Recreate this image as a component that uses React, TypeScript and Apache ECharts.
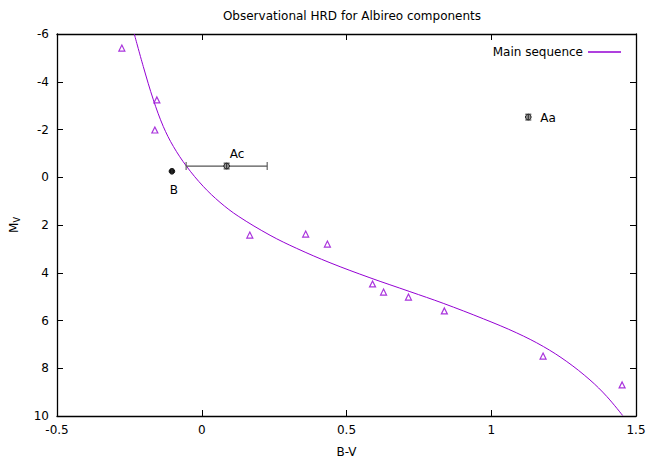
import React, { useEffect, useRef } from "react";
import * as echarts from "echarts";

const mainSequenceCurve: number[][] = [
  [-0.233, -6.0],
  [-0.202, -4.64],
  [-0.167, -3.24],
  [-0.133, -2.13],
  [-0.098, -1.29],
  [-0.052, -0.45],
  [0.005, 0.38],
  [0.063, 1.05],
  [0.126, 1.63],
  [0.236, 2.43],
  [0.328, 2.98],
  [0.443, 3.58],
  [0.581, 4.21],
  [0.719, 4.79],
  [0.834, 5.28],
  [0.973, 5.93],
  [1.088, 6.52],
  [1.18, 7.09],
  [1.261, 7.72],
  [1.341, 8.49],
  [1.399, 9.18],
  [1.454, 9.98],
];

const fieldStars: number[][] = [
  [-0.276, -5.41],
  [-0.155, -3.24],
  [-0.162, -1.98],
  [0.166, 2.42],
  [0.359, 2.38],
  [0.434, 2.8],
  [0.59, 4.47],
  [0.628, 4.81],
  [0.714, 5.02],
  [0.838, 5.6],
  [1.179, 7.49],
  [1.452, 8.7],
];

const componentNames = ["Aa", "Ac", "B"];
const componentBV = [1.128, 0.086, -0.103];
const componentMV = [-2.52, -0.47, -0.25];
const componentBVErr = [0.0, 0.14, 0.0];
const componentMVErr = [0.12, 0.12, 0.12];

const xTicks = { min: -0.5, max: 1.5, interval: 0.5 };
const yTicks = { min: -6, max: 10, interval: 2 };

const FONT = "DejaVu Sans";

export default function App() {
  const ref = useRef<HTMLDivElement>(null);
  useEffect(() => {
    if (!ref.current) return;
    const chart = echarts.init(ref.current, undefined, { renderer: "svg" });
    const labelOffsets: Record<string, [number, number, string]> = {
      Aa: [12, 1, "left"],
      Ac: [3, -12, "left"],
      B: [2, 19, "center"],
    };
    const compData = componentNames.map((n, i) => ({
      name: n,
      value: [componentBV[i], componentMV[i], componentBVErr[i], componentMVErr[i], n === "B" ? 1 : 0],
    }));
    const axisCommon = {
      axisLine: { show: true, onZero: false, lineStyle: { color: "#000", width: 1.3 } },
      axisTick: { show: true, inside: true, length: 6, lineStyle: { color: "#000", width: 1 } },
      splitLine: { show: false },
    };
    chart.setOption({
      animation: false,
      backgroundColor: "#fff",
      textStyle: { fontFamily: FONT },
      title: {
        text: "Observational HRD for Albireo components",
        left: 347,
        top: 5,
        textAlign: "center",
        textStyle: { fontFamily: FONT, fontSize: 12, fontWeight: "normal", color: "#000" },
      },
      legend: {
        data: [{ name: "Main sequence", icon: "rect" }],
        right: 23,
        top: 41,
        align: "right",
        itemWidth: 33,
        itemHeight: 1.5,
        itemGap: 7,
        textStyle: { fontFamily: FONT, fontSize: 12, color: "#000", padding: [0, 0, 0, 2] },
      },
      grid: { left: 57, right: 13, top: 34, bottom: 45, outerBoundsMode: "none", containLabel: false },
      xAxis: [
        {
          type: "value",
          ...xTicks,
          position: "bottom",
          name: "B-V",
          nameLocation: "middle",
          nameGap: 30,
          nameTextStyle: { fontFamily: FONT, fontSize: 12, color: "#000" },
          axisLabel: { fontFamily: FONT, fontSize: 12, color: "#000", margin: 8 },
          ...axisCommon,
        },
        {
          type: "value",
          ...xTicks,
          position: "top",
          axisLabel: { show: false },
          ...axisCommon,
        },
      ],
      yAxis: [
        {
          type: "value",
          ...yTicks,
          inverse: true,
          position: "left",
          name: "M{s|V}",
          nameLocation: "middle",
          nameGap: 36,
          nameRotate: 90,
          nameTextStyle: {
            fontFamily: FONT,
            fontSize: 12,
            color: "#000",
            rich: { s: { fontSize: 8, verticalAlign: "bottom", padding: [6, 0, 0, 0], fontFamily: FONT, color: "#000" } },
          },
          axisLabel: { fontFamily: FONT, fontSize: 12, color: "#000", margin: 8 },
          ...axisCommon,
        },
        {
          type: "value",
          ...yTicks,
          inverse: true,
          position: "right",
          axisLabel: { show: false },
          ...axisCommon,
        },
      ],
      series: [
        {
          name: "Main sequence",
          type: "line",
          data: mainSequenceCurve,
          smooth: 0.35,
          symbol: "none",
          clip: true,
          lineStyle: { color: "#9400d3", width: 1 },
          itemStyle: { color: "#9400d3" },
          z: 2,
        },
        {
          name: "Stars",
          type: "scatter",
          data: fieldStars,
          symbol: "triangle",
          symbolSize: 6,
          itemStyle: { color: "#fff", borderColor: "#9400d3", borderWidth: 1.2 },
          z: 3,
        },
        {
          name: "Components",
          type: "custom",
          data: compData,
          z: 4,
          renderItem: (params: any, api: any) => {
            const x = api.value(0);
            const y = api.value(1);
            const ex = api.value(2);
            const ey = api.value(3);
            const filled = api.value(4) === 1;
            const c = api.coord([x, y]);
            const t = api.coord([x, y - ey]);
            const b = api.coord([x, y + ey]);
            const name = componentNames[params.dataIndex];
            const off = labelOffsets[name];
            const stroke = { stroke: "#333", lineWidth: 1.1 };
            const children: any[] = [];
            if (ex > 0) {
              const l = api.coord([x - ex, y]);
              const r = api.coord([x + ex, y]);
              children.push({ type: "line", shape: { x1: l[0], y1: l[1], x2: r[0], y2: r[1] }, style: { stroke: "#555", lineWidth: 1.3 } });
              children.push({ type: "line", shape: { x1: l[0], y1: l[1] - 4, x2: l[0], y2: l[1] + 4 }, style: { stroke: "#555", lineWidth: 1.1 } });
              children.push({ type: "line", shape: { x1: r[0], y1: r[1] - 4, x2: r[0], y2: r[1] + 4 }, style: { stroke: "#555", lineWidth: 1.1 } });
            }
            children.push({
              type: "circle",
              shape: { cx: c[0], cy: c[1], r: 2.8 },
              style: { fill: filled ? "#111" : "#999", stroke: "#111", lineWidth: 1 },
            });
            children.push({ type: "line", shape: { x1: t[0], y1: t[1], x2: b[0], y2: b[1] }, style: stroke });
            if (!filled) {
              children.push({ type: "line", shape: { x1: t[0] - 3, y1: t[1], x2: t[0] + 3, y2: t[1] }, style: stroke });
              children.push({ type: "line", shape: { x1: b[0] - 3, y1: b[1], x2: b[0] + 3, y2: b[1] }, style: stroke });
            }
            children.push({
              type: "text",
              x: c[0] + off[0],
              y: c[1] + off[1],
              style: {
                text: name,
                fill: "#000",
                font: `12px ${FONT}`,
                align: off[2],
                verticalAlign: "middle",
              },
            });
            return { type: "group", children };
          },
        },
      ],
    });
    return () => chart.dispose();
  }, []);
  return <div ref={ref} style={{ width: 649, height: 461, position: "absolute", left: 0, top: 0 }} />;
}
